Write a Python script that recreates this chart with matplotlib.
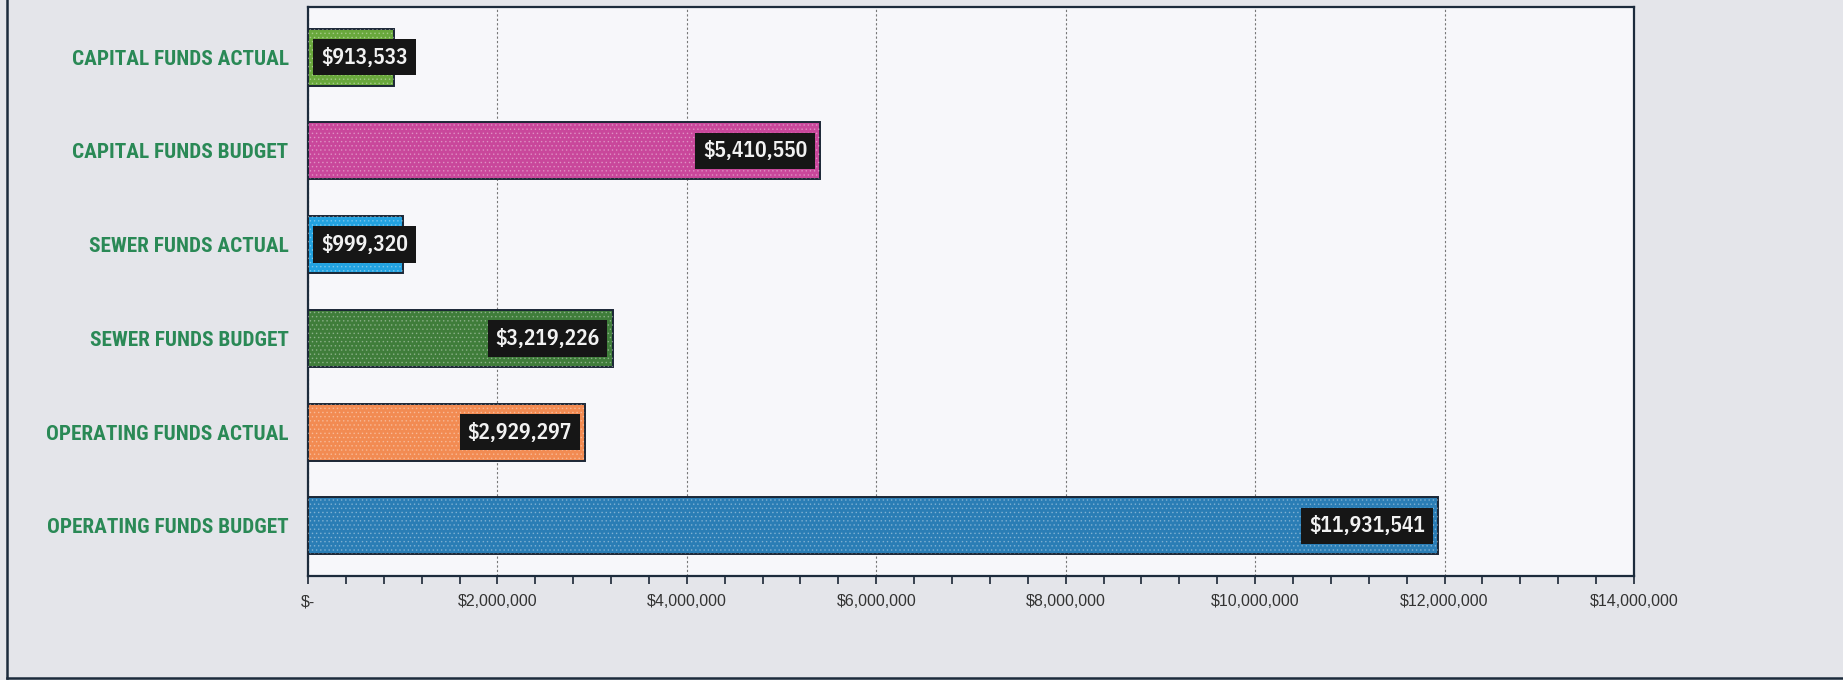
import numpy as np
import matplotlib.pyplot as plt
from matplotlib.ticker import MultipleLocator, FuncFormatter
from matplotlib.lines import Line2D


# data, top to bottom as in the chart
categories = ["CAPITAL FUNDS ACTUAL", "CAPITAL FUNDS BUDGET", "SEWER FUNDS ACTUAL",
              "SEWER FUNDS BUDGET", "OPERATING FUNDS ACTUAL", "OPERATING FUNDS BUDGET"]
amounts = [913533, 5410550, 999320, 3219226, 2929297, 11931541]
bar_colors = ["#69a83c", "#c9479b", "#22a2e0", "#3f7d3a", "#f28b52", "#2a7db5"]
x_max = 14000000
x_step = 2000000

label_font = ["Roboto Condensed", "Fira Sans Condensed", "Liberation Sans", "DejaVu Sans"]
value_font = ["IBM Plex Sans Condensed", "Roboto Condensed", "Fira Sans Condensed", "DejaVu Sans"]

plt.rcParams['hatch.linewidth'] = 0.6

fig = plt.figure(figsize=(18.43, 6.8), dpi=100)
fig.patch.set_facecolor("#e4e5ea")
ax = fig.add_axes([0.1671, 0.1529, 0.7195, 0.8368])
ax.set_facecolor("#f7f7fa")

y = np.arange(len(categories))
ax.barh(y, amounts, height=0.61, color=bar_colors, edgecolor="#1b2635", linewidth=1.4, zorder=3)
# light dotted texture on the bars
ax.barh(y, amounts, height=0.61, fill=False, hatch="....", edgecolor=(1, 1, 1, 0.3),
        linewidth=0, zorder=4)

ax.set_ylim(len(categories) - 0.465, -0.535)
ax.set_xlim(0, x_max)
ax.set_yticks(y)
ax.set_yticklabels(categories, fontsize=15.3, fontweight="bold", color="#2a8956", family=label_font)
ax.tick_params(axis="y", length=0, pad=14)

def money(v, pos):
    if v == 0:
        return "$-"
    return "${:,.0f}".format(v)

ax.xaxis.set_major_locator(MultipleLocator(x_step))
ax.xaxis.set_minor_locator(MultipleLocator(x_step / 5))
ax.xaxis.set_major_formatter(FuncFormatter(money))
ax.tick_params(axis="x", which="both", direction="out", length=6, width=1.2,
               color="#1b2635", pad=7, labelsize=11.5, labelcolor="#333333")
for lab in ax.get_xticklabels():
    lab.set_family(["Liberation Sans", "DejaVu Sans"])

ax.grid(axis="x", which="major", color="#777777", linestyle=(0, (2, 2)), linewidth=0.8, zorder=1)
for s in ax.spines.values():
    s.set_color("#1c2b3c")
    s.set_linewidth(1.6)

# value labels in black boxes
for yi, v in zip(y, amounts):
    if v < 2000000:
        xy, off, ha = (0, yi), 9.5, "left"
    else:
        xy, off, ha = (v, yi), -9.5, "right"
    ax.annotate("${:,.0f}".format(v), xy=xy, xytext=(off, 0), textcoords="offset points",
                ha=ha, va="center", fontsize=15.5, fontweight="semibold", color="#f2f2f2",
                family=value_font, zorder=6,
                bbox=dict(boxstyle="square,pad=0.36", facecolor="#161616", edgecolor="none"))

# page border (left and bottom edges)
fig.add_artist(Line2D([0.004, 0.004], [0.003, 1], transform=fig.transFigure, color="#1c2b3c", linewidth=1.8))
fig.add_artist(Line2D([0.004, 1], [0.003, 0.003], transform=fig.transFigure, color="#1c2b3c", linewidth=1.8))

fig.savefig("out.png", dpi=100, facecolor=fig.get_facecolor())
